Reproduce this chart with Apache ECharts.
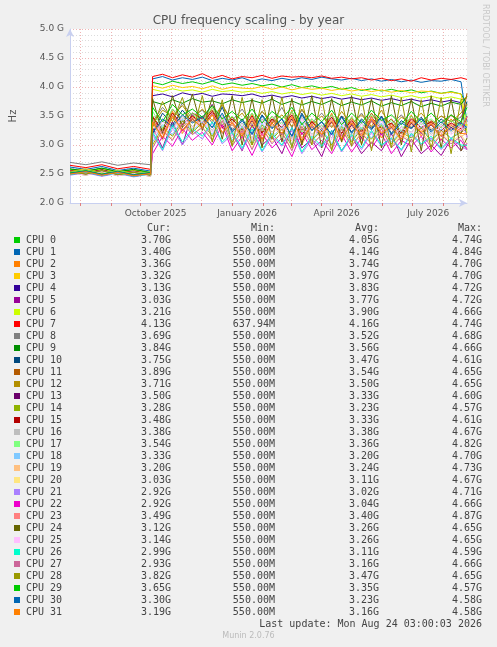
<!DOCTYPE html>
<html>
<head>
<meta charset="utf-8">
<script src="https://cdn.jsdelivr.net/npm/echarts@6/dist/echarts.min.js"></script>
<style>
  body { margin:0; background:#f0f0f0; font-family:"DejaVu Sans Mono", monospace; }
  #chart { position:absolute; left:0; top:0; width:497px; height:647px; }
  #legend { position:absolute; left:0; top:222px; width:497px; font-size:10px; color:#444; }
  .row { position:absolute; left:0; height:12px; width:497px; white-space:pre; }
  .sw { position:absolute; left:14px; top:3px; width:6px; height:6px; }
  .nm { position:absolute; left:26px; }
  .c { position:absolute; text-align:right; width:100px; }
  #rrd { position:absolute; left:481px; top:4px; writing-mode:vertical-rl; font-family:"DejaVu Sans"; font-size:8px; color:#c8c8c8; }
  #ver { position:absolute; left:0; width:497px; top:631px; text-align:center; font-family:"DejaVu Sans"; font-size:8px; color:#bbb; }
</style>
</head>
<body>
<div id="chart"></div>
<div id="legend"></div>
<div id="rrd">RRDTOOL / TOBI OETIKER</div>
<div id="ver">Munin 2.0.76</div>
<script>
// days since 2025-07-22, one category per day
var dayCount = 400;
var monthStarts = [10, 41, 71, 102, 132, 163, 194, 222, 253, 283, 314, 344, 375];
var labelDays = [86, 178, 268, 360];
var labelTexts = ['October 2025', 'January 2026', 'April 2026', 'July 2026'];

// sample days: 6 before the jump, 33 after it
var sampleDays = [0, 16, 32, 48, 64, 81,
  83, 93, 103, 113, 123, 133, 143, 153, 163, 173, 183, 193, 203, 213, 223, 233, 243, 253, 263, 273,
  283, 293, 303, 313, 323, 333, 343, 353, 363, 373, 383, 393, 399];

var names = [];
for (var k = 0; k < 32; k++) names.push('CPU ' + k);
var colors = ['#00CC00','#0066B3','#FF8000','#FFCC00','#330099','#990099','#CCFF00','#FF0000','#808080','#008F00',
  '#00487D','#B35A00','#B38F00','#6B006B','#8FB300','#B30000','#BEBEBE','#80FF80','#80C9FF','#FFC080',
  '#FFE680','#AA80FF','#EE00CC','#FF8080','#666600','#FFBFFF','#00FFCC','#CC6699','#999900','#00CC00',
  '#0066B3','#FF8000'];

// values in 10 MHz units
var cpu0 = [258,255,260,254,257,252, 408,404,410,406,409,405,410,404,407,403, 406,402,405,400,404,399,402,398,401,396, 399,394,397,393,396,392,395,390,393,389, 392,388,370];
var cpu1 = [262,258,263,256,260,255, 414,418,412,416,413,417,411,415,412,416, 410,414,411,415,412,416,413,417,414,412, 415,411,414,410,413,409,412,408,411,410, 413,409,340];
var cpu2 = [252,256,250,255,249,253, 345,312,358,320,350,330,365,335,340,318, 352,305,345,315,360,300,342,318,355,310, 348,302,350,312,338,305,352,315,340,308, 345,320,336];
var cpu3 = [255,259,253,257,251,254, 402,398,403,399,401,397,402,396,400,398, 397,401,396,400,395,399,396,398,394,397, 393,396,392,395,391,394,390,393,392,389, 391,388,332];
var cpu4 = [256,252,258,251,255,250, 385,388,383,390,386,389,384,388,387,385, 388,383,386,382,385,381,384,380,383,379, 382,378,381,377,380,376,379,375,378,374, 377,373,313];
var cpu5 = [250,254,248,253,247,251, 330,295,340,300,355,345,370,330,320,290, 335,300,315,285,330,295,310,280,325,290, 315,285,305,290,320,280,310,285,300,282, 310,290,303];
var cpu6 = [257,253,259,252,256,251, 396,392,397,393,395,391,396,392,394,391, 393,389,392,388,391,387,390,386,389,385, 388,384,387,383,386,382,385,381,384,380, 383,379,321];
var cpu7 = [265,261,266,259,263,258, 418,422,416,421,417,423,415,420,414,418, 416,420,415,419,417,418,416,419,415,417, 414,416,412,415,411,414,410,416,412,415, 413,416,413];
var cpu8 = [270,266,271,265,269,266, 340,365,345,372,350,360,338,368,342,362, 335,358,340,365,330,360,338,355,332,350, 335,355,330,348,336,352,330,345,334,350, 340,348,369];
var cpu9 = [259,255,260,254,258,253, 375,370,378,372,380,374,376,371,378,373, 377,372,379,370,376,369,375,370,377,368, 374,369,376,367,373,368,375,366,372,367, 374,370,384];
var cpu10 = [251,255,249,254,248,252, 320,355,335,360,340,350,330,365,325,345, 320,352,330,345,315,355,325,340,318,350, 322,345,328,350,320,342,330,348,325,345, 330,340,375];
var cpu11 = [253,257,251,256,250,254, 350,325,362,340,355,345,360,335,348,330, 355,322,350,330,358,325,345,328,352,320, 348,325,355,330,345,322,350,328,342,330, 352,335,389];
var cpu12 = [254,250,256,249,253,248, 335,360,350,368,345,362,342,370,338,355, 330,358,338,352,332,362,335,350,330,358, 335,352,332,360,330,348,338,355,335,350, 340,355,371];
var cpu13 = [250,254,248,253,246,251, 340,310,350,325,345,330,355,320,335,315, 342,310,338,318,345,305,332,315,340,308, 335,312,342,318,330,310,338,320,335,315, 330,320,350];
var cpu14 = [252,248,254,247,251,246, 300,330,315,342,322,338,315,348,305,330, 300,335,310,328,298,338,308,325,300,332, 305,328,310,335,302,322,312,330,306,325, 312,322,328];
var cpu15 = [256,252,257,251,255,250, 348,322,355,335,350,338,358,330,345,325, 350,320,345,330,352,318,340,325,348,320, 342,322,348,328,338,320,345,330,340,325, 338,328,348];
var cpu16 = [255,251,256,250,254,249, 315,342,328,350,332,345,325,352,318,338, 312,345,322,340,310,348,318,335,312,342, 315,338,320,345,312,332,322,340,318,336, 322,334,338];
var cpu17 = [253,257,251,256,250,254, 358,330,362,345,355,340,365,335,350,330, 355,325,350,335,358,322,345,330,352,325, 348,328,352,332,342,325,350,335,345,330, 342,332,354];
var cpu18 = [251,255,249,254,248,252, 305,335,318,345,325,340,318,350,308,332, 302,338,312,332,300,340,310,328,302,335, 308,330,312,338,305,325,315,332,308,328, 312,325,333];
var cpu19 = [252,256,250,255,249,253, 338,308,348,322,342,328,352,320,335,310, 340,305,335,315,342,302,330,312,338,305, 332,310,340,315,328,308,335,318,330,310, 328,315,320];
var cpu20 = [250,254,248,253,247,251, 298,325,310,338,318,332,310,342,300,325, 295,330,305,322,292,332,302,318,295,328, 300,322,305,330,298,318,308,325,300,320, 305,318,303];
var cpu21 = [248,252,246,251,245,250, 318,290,330,300,325,310,338,302,318,292, 322,288,315,298,325,285,310,295,320,288, 315,292,322,298,310,290,318,300,312,292, 310,298,292];
var cpu22 = [249,253,247,252,246,250, 285,315,298,328,308,322,300,335,290,315, 282,320,295,312,280,322,292,308,285,318, 288,312,295,320,285,308,298,315,288,310, 295,308,292];
var cpu23 = [251,255,249,254,248,252, 345,318,352,330,348,335,355,328,340,320, 348,315,342,325,350,312,338,320,345,315, 340,318,348,322,335,315,342,325,338,320, 336,325,349];
var cpu24 = [253,249,255,248,252,247, 380,320,385,330,388,325,382,310,385,300, 380,295,385,305,380,300,385,295,380,305, 385,300,380,295,385,300,380,290,385,295, 380,290,312];
var cpu25 = [252,248,254,247,251,246, 310,340,325,348,330,342,322,350,315,335, 310,342,320,336,308,345,315,332,310,340, 312,335,318,342,310,330,320,338,314,334, 318,332,314];
var cpu26 = [249,253,247,252,246,250, 322,292,335,305,328,315,340,305,322,295, 328,290,320,300,330,288,315,298,325,290, 318,295,325,300,312,292,320,302,315,294, 312,300,299];
var cpu27 = [250,254,248,253,247,251, 295,325,308,338,318,330,308,342,298,325, 292,330,302,322,290,332,300,318,292,328, 298,320,302,328,295,315,305,322,296,318, 302,315,293];
var cpu28 = [254,250,256,249,253,248, 330,375,340,382,320,385,305,378,298,382, 300,378,310,382,295,378,300,382,290,378, 298,382,290,378,295,382,288,378,292,382, 285,378,382];
var cpu29 = [252,256,250,255,249,253, 365,340,370,352,362,348,368,345,358,342, 362,338,358,345,365,335,355,340,360,335, 355,338,360,342,352,335,358,340,355,338, 352,340,365];
var cpu30 = [251,255,249,254,248,252, 320,345,332,352,338,348,330,355,322,342, 318,350,328,345,315,352,325,340,318,348, 320,342,326,348,318,338,328,345,322,340, 325,338,330];
var cpu31 = [250,254,248,253,247,251, 340,312,350,325,345,330,352,322,338,315, 345,310,338,320,348,308,335,318,342,310, 338,315,345,320,332,310,340,322,336,315, 334,320,319];
var cpuValues = [cpu0,cpu1,cpu2,cpu3,cpu4,cpu5,cpu6,cpu7,cpu8,cpu9,cpu10,cpu11,cpu12,cpu13,cpu14,cpu15,
  cpu16,cpu17,cpu18,cpu19,cpu20,cpu21,cpu22,cpu23,cpu24,cpu25,cpu26,cpu27,cpu28,cpu29,cpu30,cpu31];

var curVals = ['3.70G','3.40G','3.36G','3.32G','3.13G','3.03G','3.21G','4.13G','3.69G','3.84G','3.75G','3.89G','3.71G','3.50G','3.28G','3.48G',
  '3.38G','3.54G','3.33G','3.20G','3.03G','2.92G','2.92G','3.49G','3.12G','3.14G','2.99G','2.93G','3.82G','3.65G','3.30G','3.19G'];
var minVals = ['550.00M','550.00M','550.00M','550.00M','550.00M','550.00M','550.00M','637.94M','550.00M','550.00M','550.00M','550.00M','550.00M','550.00M','550.00M','550.00M',
  '550.00M','550.00M','550.00M','550.00M','550.00M','550.00M','550.00M','550.00M','550.00M','550.00M','550.00M','550.00M','550.00M','550.00M','550.00M','550.00M'];
var avgVals = ['4.05G','4.14G','3.74G','3.97G','3.83G','3.77G','3.90G','4.16G','3.52G','3.56G','3.47G','3.54G','3.50G','3.33G','3.23G','3.33G',
  '3.38G','3.36G','3.20G','3.24G','3.11G','3.02G','3.04G','3.40G','3.26G','3.26G','3.11G','3.16G','3.47G','3.35G','3.23G','3.16G'];
var maxVals = ['4.74G','4.84G','4.70G','4.70G','4.72G','4.72G','4.66G','4.74G','4.68G','4.66G','4.61G','4.65G','4.65G','4.60G','4.57G','4.61G',
  '4.67G','4.82G','4.70G','4.73G','4.67G','4.71G','4.66G','4.87G','4.65G','4.65G','4.59G','4.66G','4.65G','4.57G','4.58G','4.58G'];

var categories = [];
for (var d = 0; d < dayCount; d++) categories.push(String(d));

var series = cpuValues.map(function (vals, i) {
  var data = new Array(dayCount).fill(null);
  sampleDays.forEach(function (day, j) { data[day] = vals[j] / 100; });
  return {
    name: names[i], type: 'line', data: data, connectNulls: true, showSymbol: false,
    lineStyle: { width: 1, color: colors[i] }, itemStyle: { color: colors[i] }
  };
});

var myChart = echarts.init(document.getElementById('chart'));
myChart.setOption({
  animation: false,
  backgroundColor: '#f0f0f0',
  title: { text: 'CPU frequency scaling - by year', left: 'center', top: 10,
    textStyle: { fontFamily: 'DejaVu Sans', fontSize: 12, fontWeight: 'normal', color: '#555' } },
  grid: { left: 67, right: 30, top: 29, bottom: 444, backgroundColor: '#fff', show: true, borderWidth: 0 },
  xAxis: {
    type: 'category', data: categories, boundaryGap: false,
    axisLine: { lineStyle: { color: '#c8d0f0' }, symbol: ['none', 'arrow'], symbolSize: [6, 8] },
    axisTick: { show: true, interval: function (idx) { return monthStarts.indexOf(idx) >= 0; }, lineStyle: { color: '#e08080' }, length: 3 },
    axisLabel: { interval: function (idx) { return labelDays.indexOf(idx) >= 0; },
      formatter: function (v) { return labelTexts[labelDays.indexOf(Number(v))] || ''; },
      fontFamily: 'DejaVu Sans', fontSize: 9, color: '#555', margin: 6 },
    splitLine: { show: true, interval: function (idx) { return monthStarts.indexOf(idx) >= 0; },
      lineStyle: { color: '#eeb4b4', type: [1, 2] } }
  },
  yAxis: {
    type: 'value', min: 2, max: 5, interval: 0.5,
    name: 'Hz', nameLocation: 'middle', nameGap: 52, nameRotate: 90,
    nameTextStyle: { fontFamily: 'DejaVu Sans', fontSize: 10, color: '#555' },
    axisLine: { show: true, lineStyle: { color: '#c8d0f0' }, symbol: ['none', 'arrow'], symbolSize: [6, 8] },
    axisTick: { show: false },
    axisLabel: { formatter: function (v) { return v.toFixed(1) + ' G'; }, fontFamily: 'DejaVu Sans', fontSize: 9, color: '#555', margin: 6 },
    splitLine: { lineStyle: { color: '#eeb4b4', type: [1, 2] } },
    minorTick: { show: false, splitNumber: 5 },
    minorSplitLine: { show: true, lineStyle: { color: '#dcdcdc', type: [1, 2] } }
  },
  series: series
});

// legend table
var leg = document.getElementById('legend');
var html = '<div class="row" style="top:0px"><span class="c" style="left:71px">Cur:</span>' +
  '<span class="c" style="left:175px">Min:</span><span class="c" style="left:279px">Avg:</span>' +
  '<span class="c" style="left:382px">Max:</span></div>';
for (var i = 0; i < 32; i++) {
  var rowTop = 12 + i * 12;
  html += '<div class="row" style="top:' + rowTop + 'px"><span class="sw" style="background:' + colors[i] + '"></span>' +
    '<span class="nm">' + names[i] + '</span>' +
    '<span class="c" style="left:71px">' + curVals[i] + '</span>' +
    '<span class="c" style="left:175px">' + minVals[i] + '</span>' +
    '<span class="c" style="left:279px">' + avgVals[i] + '</span>' +
    '<span class="c" style="left:382px">' + maxVals[i] + '</span></div>';
}
html += '<div class="row" style="top:396px"><span class="c" style="left:182px;width:300px">Last update: Mon Aug 24 03:00:03 2026</span></div>';
leg.innerHTML = html;
</script>
</body>
</html>
